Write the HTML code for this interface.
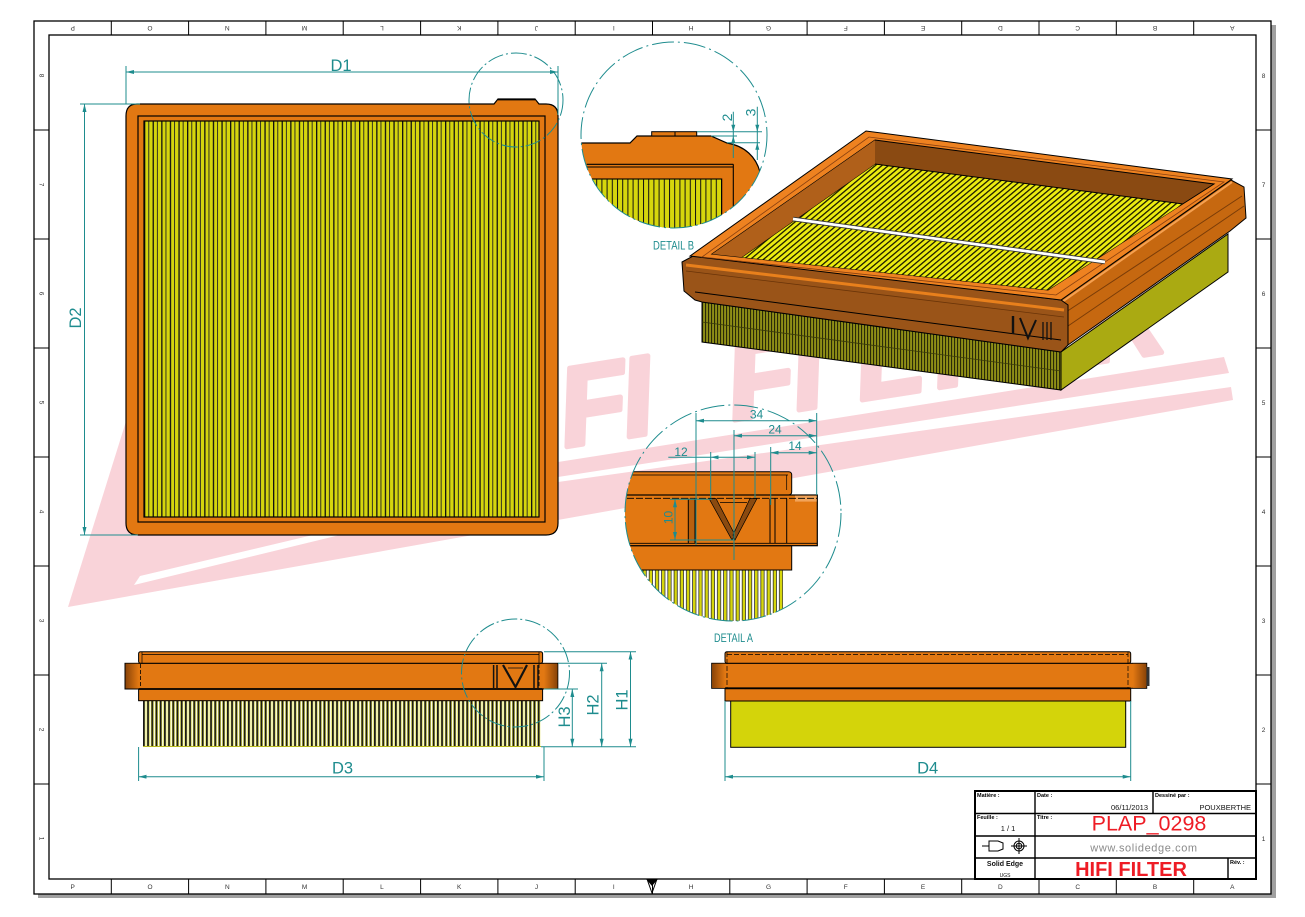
<!DOCTYPE html>
<html><head><meta charset="utf-8"><style>
html,body{margin:0;padding:0;background:#fff;}
svg{display:block;}
</style></head><body>
<svg width="1305" height="917" viewBox="0 0 1305 917" xmlns="http://www.w3.org/2000/svg" font-family="Liberation Sans, Arial, sans-serif">
<defs>
<pattern id="p2d" x="144" y="0" width="8.6" height="20" patternUnits="userSpaceOnUse">
 <rect width="8.6" height="20" fill="#d5d50d"/>
 <rect x="0" width="1.3" height="20" fill="#111"/>
 <rect x="4.3" width="0.9" height="20" fill="#222"/>
</pattern>
<pattern id="pside" x="143" y="0" width="4.2" height="20" patternUnits="userSpaceOnUse">
 <rect width="4.2" height="20" fill="#fff"/>
 <rect x="0" width="1.8" height="20" fill="#1a1a1a"/>
 <rect x="1.8" width="0.6" height="20" fill="#d8d830"/>
 <rect x="3.6" width="0.6" height="20" fill="#d8d830"/>
</pattern>
<pattern id="p3dtop" width="10" height="4.2" patternUnits="userSpaceOnUse" patternTransform="rotate(-40)">
 <rect width="10" height="4.2" fill="#ecec10"/>
 <rect y="0" width="10" height="1.3" fill="#1a1a00"/>
</pattern>
<pattern id="p3dfront" width="3" height="20" patternUnits="userSpaceOnUse">
 <rect width="3" height="20" fill="#8e8e16"/>
 <rect width="1.1" height="20" fill="#2a2a08"/>
</pattern>
<pattern id="pdetA" x="600" y="0" width="6.2" height="20" patternUnits="userSpaceOnUse">
 <rect width="6.2" height="20" fill="#fff"/>
 <rect width="2.6" height="20" fill="#d6d60c"/>
 <rect x="2.6" width="0.7" height="20" fill="#111"/>
 <rect x="5.5" width="0.7" height="20" fill="#111"/>
</pattern>
<pattern id="pdetB" x="591" y="0" width="5.2" height="20" patternUnits="userSpaceOnUse">
 <rect width="5.2" height="20" fill="#d6d60c"/>
 <rect width="1" height="20" fill="#111"/>
</pattern>
<clipPath id="cB"><circle cx="674" cy="135" r="93"/></clipPath>
<clipPath id="cA"><circle cx="733" cy="513" r="108"/></clipPath>
<clipPath id="cOpen"><polygon points="875,140 1214,184 1048,290 712,254"/></clipPath>
<linearGradient id="gL" x1="0" x2="1" y1="0" y2="0"><stop offset="0" stop-color="#8a4408"/><stop offset="1" stop-color="#e27812"/></linearGradient>
<linearGradient id="gR" x1="0" x2="1" y1="0" y2="0"><stop offset="0" stop-color="#e27812"/><stop offset="1" stop-color="#8a4408"/></linearGradient>
<marker id="ar" viewBox="0 0 8 4" refX="8" refY="2" markerWidth="8" markerHeight="4" markerUnits="userSpaceOnUse" orient="auto-start-reverse"><path d="M0,0 L8,2 L0,4 Z" fill="#1e8c8e"/></marker>
</defs>

<!-- sheet & shadow -->
<rect x="0" y="0" width="1305" height="917" fill="#fff"/>
<rect x="38" y="25" width="1238" height="873" fill="#a0a0a0"/>
<rect x="34" y="21" width="1237" height="873" fill="#fff"/>

<!-- watermark -->
<g fill="#f9d3d9">
 <polygon points="68,607 128,415 400,415 558,462 1224,357 1229,373 558,477 140,576 134,585 558,482 1231,387 1233,400"/>
 <text transform="translate(565,447) rotate(-9)" font-size="112" font-weight="bold" font-style="italic" stroke="#f9d3d9" stroke-width="5" stroke-linejoin="round" x="-190 -100 0 63 170 235 299 359 440 531" y="0">HIFIFILTER</text>
</g>

<!-- frame -->
<rect x="34" y="21" width="1237" height="873" fill="none" stroke="#000" stroke-width="1.3"/>
<rect x="49" y="35" width="1207" height="844" fill="none" stroke="#000" stroke-width="1.3"/>
<g stroke="#000" stroke-width="1">
 <path d="M111.3,21V35M188.6,21V35M265.9,21V35M343.2,21V35M420.6,21V35M497.9,21V35M575.2,21V35M652.5,21V35M729.8,21V35M807.1,21V35M884.4,21V35M961.7,21V35M1039,21V35M1116.3,21V35M1193.7,21V35"/>
 <path d="M111.3,879V894M188.6,879V894M265.9,879V894M343.2,879V894M420.6,879V894M497.9,879V894M575.2,879V894M652.5,879V894M729.8,879V894M807.1,879V894M884.4,879V894M961.7,879V894M1039,879V894M1116.3,879V894M1193.7,879V894"/>
 <path d="M34,130H49M34,239H49M34,348H49M34,457H49M34,566H49M34,675H49M34,784H49"/>
 <path d="M1256,130H1271M1256,239H1271M1256,348H1271M1256,457H1271M1256,566H1271M1256,675H1271M1256,784H1271"/>
</g>
<g font-size="6.5" fill="#333" text-anchor="middle">
 <text x="72.7" y="889">P</text><text x="150" y="889">O</text><text x="227.3" y="889">N</text><text x="304.6" y="889">M</text>
 <text x="381.9" y="889">L</text><text x="459.2" y="889">K</text><text x="536.5" y="889">J</text><text x="613.8" y="889">I</text>
 <text x="691.1" y="889">H</text><text x="768.5" y="889">G</text><text x="845.8" y="889">F</text><text x="923.1" y="889">E</text>
 <text x="1000.4" y="889">D</text><text x="1077.7" y="889">C</text><text x="1155" y="889">B</text><text x="1232.3" y="889">A</text>
 <text transform="translate(72.7,26) rotate(180)">P</text><text transform="translate(150,26) rotate(180)">O</text>
 <text transform="translate(227.3,26) rotate(180)">N</text><text transform="translate(304.6,26) rotate(180)">M</text>
 <text transform="translate(381.9,26) rotate(180)">L</text><text transform="translate(459.2,26) rotate(180)">K</text>
 <text transform="translate(536.5,26) rotate(180)">J</text><text transform="translate(613.8,26) rotate(180)">I</text>
 <text transform="translate(691.1,26) rotate(180)">H</text><text transform="translate(768.5,26) rotate(180)">G</text>
 <text transform="translate(845.8,26) rotate(180)">F</text><text transform="translate(923.1,26) rotate(180)">E</text>
 <text transform="translate(1000.4,26) rotate(180)">D</text><text transform="translate(1077.7,26) rotate(180)">C</text>
 <text transform="translate(1155,26) rotate(180)">B</text><text transform="translate(1232.3,26) rotate(180)">A</text>
 <text transform="translate(39.5,75.5) rotate(90)">8</text><text transform="translate(39.5,184.5) rotate(90)">7</text>
 <text transform="translate(39.5,293.5) rotate(90)">6</text><text transform="translate(39.5,402.5) rotate(90)">5</text>
 <text transform="translate(39.5,511.5) rotate(90)">4</text><text transform="translate(39.5,620.5) rotate(90)">3</text>
 <text transform="translate(39.5,729.5) rotate(90)">2</text><text transform="translate(39.5,838.5) rotate(90)">1</text>
 <text x="1263.5" y="78">8</text><text x="1263.5" y="187">7</text><text x="1263.5" y="296">6</text><text x="1263.5" y="405">5</text>
 <text x="1263.5" y="514">4</text><text x="1263.5" y="623">3</text><text x="1263.5" y="732">2</text><text x="1263.5" y="841">1</text>
</g>
<polygon points="646,879 658,879 652,886" fill="#000"/>
<path d="M647,879 L652,893 L657,879" fill="none" stroke="#000" stroke-width="1"/>

<!-- title block -->
<g stroke="#000" fill="none">
 <rect x="975" y="791" width="281" height="88" stroke-width="2"/>
 <path d="M1035,791V879M975,813.5H1256M975,836H1256M975,858H1256M1153,791V813.5M1228,858V879" stroke-width="1.4"/>
</g>
<g font-size="5.5" font-weight="bold" fill="#000">
 <text x="977" y="797">Matière :</text>
 <text x="1037" y="797">Date :</text>
 <text x="1155" y="797">Dessiné par :</text>
 <text x="977" y="819">Feuille :</text>
 <text x="1037" y="819">Titre :</text>
 <text x="1230" y="864">Rév. :</text>
</g>
<g font-size="7.5" fill="#111">
 <text x="1148" y="810" text-anchor="end">06/11/2013</text>
 <text x="1251" y="810" text-anchor="end">POUXBERTHE</text>
 <text x="1008" y="831" text-anchor="middle">1 / 1</text>
</g>
<text x="1149" y="830.5" font-size="21.5" fill="#ee1c25" text-anchor="middle">PLAP_0298</text>
<text x="1144" y="851.5" font-size="11" fill="#8a8a8a" text-anchor="middle" letter-spacing="0.6">www.solidedge.com</text>
<text x="1131" y="876" font-size="20" font-weight="bold" fill="#ee1c25" text-anchor="middle">HIFI FILTER</text>
<text x="1005" y="866" font-size="7" font-weight="bold" fill="#111" text-anchor="middle">Solid Edge</text>
<text x="1005" y="877" font-size="5" fill="#111" text-anchor="middle">UGS</text>
<g stroke="#000" stroke-width="1" fill="none">
 <path d="M982,846H989M989,841H998L1003,843V849L998,851H989Z"/>
 <circle cx="1019" cy="846" r="5"/><circle cx="1019" cy="846" r="2.8"/>
 <path d="M1011,846H1027M1019,838V854"/>
</g>

<!-- ===== TOP VIEW ===== -->
<path d="M137,104 L494,104 L498,99 L535,99 L539,104 L546,104 Q558,104 558,116 L558,523 Q558,535 546,535 L138,535 Q126,535 126,523 L126,116 Q126,104 137,104 Z" fill="#e27812" stroke="#000" stroke-width="1.2"/>
<path d="M498,99.5H535" stroke="#000" stroke-width="1.8"/>
<rect x="138" y="116" width="407" height="406" fill="none" stroke="#000" stroke-width="1.2"/>
<rect x="144" y="121" width="395" height="396" fill="url(#p2d)" stroke="#000" stroke-width="1.2"/>

<!-- dims top view -->
<g stroke="#1e8c8e" stroke-width="1" fill="none">
 <path d="M126,66V104M558,66V115M80,104H140M80,535H138"/>
 <path d="M126,72H558" marker-start="url(#ar)" marker-end="url(#ar)"/>
 <path d="M84.5,104V535" marker-start="url(#ar)" marker-end="url(#ar)"/>
 <circle cx="516" cy="100" r="47" stroke-dasharray="16 3 2 3"/>
</g>
<g fill="#1e8c8e" font-size="16.5">
 <text x="341" y="71" text-anchor="middle">D1</text>
 <text transform="translate(81,318) rotate(-90)" text-anchor="middle">D2</text>
</g>

<!-- ===== DETAIL B ===== -->
<g clip-path="url(#cB)">
 <path d="M570,143 L630,143 L637,136 L711,136 L727,143 C745,146 756,157 760,172 L770,172 L770,240 L570,240 Z" fill="#e27812" stroke="#000" stroke-width="1.2"/>
 <rect x="651.7" y="131.7" width="45" height="4.3" fill="#e27812" stroke="#000" stroke-width="1"/>
 <path d="M675,131.7V136" stroke="#000" stroke-width="1"/>
 <path d="M586.7,164.3H733.3M586.7,167H733.3M733.3,164.3V240" stroke="#000" stroke-width="1.1" fill="none"/>
 <rect x="591.7" y="179" width="130" height="70" fill="url(#pdetB)" stroke="#000" stroke-width="1.1"/>
</g>
<g stroke="#1e8c8e" stroke-width="1" fill="none">
 <circle cx="674" cy="135" r="93" stroke-dasharray="22 4 2 4"/>
 <path d="M697,131.7H762M711,136H737M727,142.7H760"/>
 <path d="M733.3,111.7V158M757.3,106.7V160"/>
</g>
<g fill="#1e8c8e">
 <path d="M733.3,131.7l-2,-7h4z"/>
 <path d="M733.3,136l-2,7h4z"/>
 <path d="M757.3,131.7l-2,-7h4z"/>
 <path d="M757.3,142.7l-2,7h4z"/>
 <text transform="translate(732,117.5) rotate(-90)" font-size="14" text-anchor="middle">2</text>
 <text transform="translate(755.5,112.5) rotate(-90)" font-size="14" text-anchor="middle">3</text>
 <text x="673.5" y="249.5" font-size="12" text-anchor="middle" textLength="41" lengthAdjust="spacingAndGlyphs">DETAIL B</text>
</g>

<!-- ===== 3D VIEW ===== -->
<polygon points="1061,352 1228,234 1228,272 1061,390" fill="#aaaa12" stroke="#000" stroke-width="1"/>
<polygon points="702,302 1061,352 1061,390 702,342" fill="url(#p3dfront)" stroke="#000" stroke-width="1"/>
<path d="M702,322L1061,371" stroke="#3a3a08" stroke-width="0.8"/>
<polygon points="1061,300 1231,180 1244,187 1246,218 1230,231 1068,345 1066,304" fill="#c66810" stroke="#000" stroke-width="1"/>
<path d="M1066,312L1242,196M1068,326L1244,206" stroke="#7a3c08" stroke-width="1" fill="none"/>
<path d="M1062,302L1232,182" stroke="#f5a050" stroke-width="2"/>
<polygon points="682,262 695,255 1061,300 1068,305 1068,345 1061,352 702,302 695,300 684,291" fill="#9a5418" stroke="#000" stroke-width="1"/>
<path d="M686,265L1064,310" stroke="#e8801c" stroke-width="3"/>
<path d="M686,271L1064,317" stroke="#6a3408" stroke-width="0.8"/>
<path d="M695,292L1061,340" stroke="#000" stroke-width="1"/>
<polygon points="690,256 866,131 1232,179 1061,300" fill="#ee8220" stroke="#000" stroke-width="1"/>
<polygon points="875,140 1214,184 1048,290 712,254" fill="#8a4a12" stroke="#000" stroke-width="1"/>
<polygon points="702,257 869,137 1224,182 1056,295" fill="none" stroke="#8a4010" stroke-width="0.8"/>
<g clip-path="url(#cOpen)">
 <polygon points="712,278 875,164 1214,208 1048,314" fill="url(#p3dtop)" stroke="#000" stroke-width="1"/>
 <polygon points="712,254 875,140 875,164 712,278" fill="#b0601a"/>
</g>
<path d="M793,219L1105,262" stroke="#333" stroke-width="4.5"/>
<path d="M793,219L1105,262" stroke="#fff" stroke-width="2.8"/>
<g stroke="#111" fill="none">
 <path d="M1013,316V334" stroke-width="2.4"/>
 <path d="M1020,318L1028,338L1036,320" stroke-width="2"/>
 <path d="M1043,322V340M1047,322V340M1051,322V340" stroke-width="1.3"/>
</g>

<!-- ===== SIDE VIEW (left) ===== -->
<rect x="143" y="700.7" width="398" height="46" fill="url(#pside)"/>
<path d="M143,746.5H541" stroke="#b8b820" stroke-width="1"/>
<rect x="138.6" y="689" width="404" height="11.7" fill="#e27812" stroke="#000" stroke-width="1"/>
<rect x="125" y="663.3" width="432.8" height="25.7" fill="#e27812" stroke="#000" stroke-width="1"/>
<rect x="125.5" y="663.8" width="13" height="24.7" fill="url(#gL)"/>
<rect x="544" y="663.8" width="13.3" height="24.7" fill="url(#gR)"/>
<path d="M138.6,689H542.6" stroke="#000" stroke-width="1.8"/>
<path d="M140.5,664V688M539,664V688" stroke="#000" stroke-width="0.8" stroke-dasharray="4 2"/>
<rect x="138.6" y="651.7" width="404" height="11.6" rx="2" fill="#e27812" stroke="#000" stroke-width="1"/>
<path d="M142,654.5H539M142,652V663M539,652V663" stroke="#000" stroke-width="0.7" fill="none"/>
<g stroke="#111" fill="none">
 <path d="M493.6,665V688M497,665V688" stroke-width="1.5"/>
 <path d="M503,665L515.5,687L527,665" stroke-width="2.2"/>
 <path d="M508,668H523" stroke-width="0.8"/>
 <path d="M534,665V688M538,665V688" stroke-width="1.5"/>
</g>

<!-- dims side view -->
<g stroke="#1e8c8e" stroke-width="1" fill="none">
 <circle cx="515.5" cy="673" r="54" stroke-dasharray="16 3 2 3"/>
 <path d="M544,651.7H636M558,663.3H607M544,689H578M541,746.7H636"/>
 <path d="M630.5,651.7V746.7" marker-start="url(#ar)" marker-end="url(#ar)"/>
 <path d="M601.7,663.3V746.7" marker-start="url(#ar)" marker-end="url(#ar)"/>
 <path d="M572.3,689V746.7" marker-start="url(#ar)" marker-end="url(#ar)"/>
 <path d="M138.6,747V781M544,747V781"/>
 <path d="M138.6,776.7H544" marker-start="url(#ar)" marker-end="url(#ar)"/>
</g>
<g fill="#1e8c8e" font-size="16.5" text-anchor="middle">
 <text transform="translate(627.5,700) rotate(-90)">H1</text>
 <text transform="translate(598.5,705) rotate(-90)">H2</text>
 <text transform="translate(569.8,717) rotate(-90)">H3</text>
 <text x="342.5" y="773.5">D3</text>
 <text x="927.7" y="773.5">D4</text>
</g>

<!-- ===== SIDE VIEW (right) ===== -->
<rect x="730.7" y="701" width="395" height="46.3" fill="#d4d40a" stroke="#000" stroke-width="1"/>
<rect x="725" y="688.3" width="405.7" height="12.7" fill="#e27812" stroke="#000" stroke-width="1"/>
<rect x="711.7" y="663.3" width="435" height="25" fill="#e27812" stroke="#000" stroke-width="1"/>
<rect x="712.2" y="663.8" width="13" height="24" fill="url(#gL)"/>
<rect x="1133" y="663.8" width="13.3" height="24" fill="url(#gR)"/>
<rect x="1146.5" y="667" width="3" height="19" fill="#333"/>
<path d="M725,688.3H1130.7" stroke="#000" stroke-width="1.8"/>
<rect x="725" y="651.7" width="405.7" height="11.6" rx="2" fill="#e27812" stroke="#000" stroke-width="1"/>
<path d="M727,654.5H1128M727,652V688M1128,652V688" stroke="#000" stroke-width="0.7" fill="none" stroke-dasharray="5 2"/>
<g stroke="#1e8c8e" stroke-width="1" fill="none">
 <path d="M725,701V781M1130.7,701V781"/>
 <path d="M725,776.7H1130.7" marker-start="url(#ar)" marker-end="url(#ar)"/>
</g>

<!-- ===== DETAIL A ===== -->
<g clip-path="url(#cA)">
 <rect x="600" y="570" width="183" height="80" fill="url(#pdetA)"/>
 <rect x="600" y="545.7" width="191.7" height="24.3" fill="#e27812" stroke="#000" stroke-width="1"/>
 <rect x="600" y="471.7" width="191.7" height="23.3" rx="3" fill="#e27812" stroke="#000" stroke-width="1"/>
 <path d="M600,475H788M786.7,475V490" stroke="#000" stroke-width="0.7" fill="none"/>
 <rect x="600" y="495" width="217.3" height="50.7" fill="#e27812" stroke="#000" stroke-width="1.2"/>
 <rect x="795" y="495.6" width="21.7" height="6" fill="#f2a45a"/>
 <path d="M600,498.3H817" stroke="#000" stroke-width="0.8" stroke-dasharray="7 2"/>
 <path d="M600,543.3H817" stroke="#000" stroke-width="0.8"/>
 <rect x="688" y="498.5" width="7" height="44.5" fill="#b8600e"/>
 <path d="M688.3,498.5V543M695,498.5V543" stroke="#000" stroke-width="1"/>
 <polygon points="709,498.5 716,498.5 735,535 732,540" fill="#8a4a10" stroke="#000" stroke-width="0.7"/>
 <polygon points="750,498.5 757,498.5 735,540 733,535" fill="#8a4a10" stroke="#000" stroke-width="0.7"/>
 <path d="M720,502.5H747" stroke="#000" stroke-width="0.8"/>
 <path d="M770,498.5V543M775,498.5V543M786.7,498.5V543" stroke="#000" stroke-width="1"/>
</g>
<g stroke="#1e8c8e" stroke-width="1" fill="none">
 <circle cx="733" cy="513" r="108" stroke-dasharray="24 4 2 4"/>
 <path d="M696,413V545M816.7,413V495M734,430V560M770.7,447V505M710.7,452V498M755,452V498M670,499.3H712M670,540H734"/>
 <path d="M696,420.7H816.7" marker-start="url(#ar)" marker-end="url(#ar)"/>
 <path d="M734,435.7H816.7" marker-start="url(#ar)" marker-end="url(#ar)"/>
 <path d="M770.7,452.7H816.7" marker-start="url(#ar)" marker-end="url(#ar)"/>
 <path d="M668.3,457.3H710.7"/>
 <path d="M710.7,457.3H755" marker-start="url(#ar)" marker-end="url(#ar)"/>
 <path d="M675,499.3V540" marker-start="url(#ar)" marker-end="url(#ar)"/>
</g>
<g fill="#1e8c8e" font-size="12" text-anchor="middle">
 <text x="756.5" y="418.5">34</text>
 <text x="775" y="433.5">24</text>
 <text x="795" y="450">14</text>
 <text x="681" y="456">12</text>
 <text transform="translate(672.5,517.5) rotate(-90)">10</text>
 <text x="733.5" y="642" textLength="39" lengthAdjust="spacingAndGlyphs">DETAIL A</text>
</g>
</svg>
</body></html>
